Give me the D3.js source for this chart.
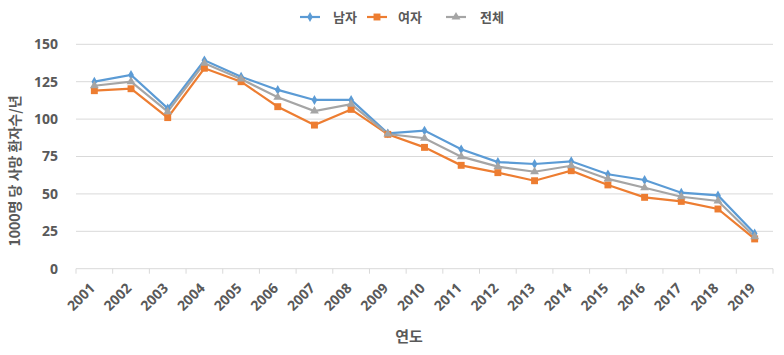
<!DOCTYPE html>
<html><head><meta charset="utf-8">
<script src="https://cdn.jsdelivr.net/npm/d3@7"></script>
<style>body{margin:0;background:#fff}svg{display:block}text{font-family:"Noto Sans CJK KR","Noto Sans",sans-serif;}</style>
</head><body><svg id="c" width="784" height="355"></svg>
<script>
const years = ["2001","2002","2003","2004","2005","2006","2007","2008","2009","2010","2011","2012","2013","2014","2015","2016","2017","2018","2019"];
const male =   [125,129.5,107.2,139.3,128.3,119.5,112.8,112.8,90.5,92.3,79.8,71.3,70,71.8,63.1,59.3,50.8,49,23.6];
const female = [119,120.3,101,134,125,108.3,96,106.5,89.8,81.1,69.1,64.2,58.8,65.5,56,47.7,45,39.9,19.9];
const total =  [122.3,125,105,137.3,126.8,114.6,105.4,110,90,87.2,74.9,68.2,64.8,68.8,60,54.1,48.1,45.3,21.4];
const yTicks = [0,25,50,75,100,125,150];
const seriesNames = ["남자","여자","전체"];
const colors = ["#5B9BD5","#ED7D31","#A5A5A5"];
const yTitle = "1000명 당 사망 환자수/년";
const xTitle = "연도";

const svg = d3.select("#c");
const L=76,R=773,T=44.3,B=268.7;
const x = d3.scaleBand().domain(years).range([L,R]);
const y = d3.scaleLinear().domain([0,150]).range([B,T]);
const txt="#595959";
const numFont='"Noto Sans","DejaVu Sans",sans-serif';

// gridlines
svg.append("g").selectAll("line").data(yTicks.filter(d=>d>0)).join("line")
  .attr("x1",L).attr("x2",R).attr("y1",d=>y(d)).attr("y2",d=>y(d))
  .attr("stroke","#D9D9D9").attr("stroke-width",1);
// y axis labels
const ya = svg.append("g").attr("transform",`translate(${L},0)`).call(d3.axisLeft(y).tickValues(yTicks).tickSize(0).tickPadding(18));
ya.select(".domain").remove();
ya.selectAll("text").attr("fill",txt).style("font-size","14px").style("font-weight","bold").style("font-family",numFont);
// x axis
svg.append("line").attr("x1",L).attr("x2",R).attr("y1",B).attr("y2",B).attr("stroke","#D9D9D9");
svg.append("g").selectAll("line").data(years.concat(["end"])).join("line")
  .attr("x1",(d,i)=>L+i*x.bandwidth()).attr("x2",(d,i)=>L+i*x.bandwidth())
  .attr("y1",B).attr("y2",B+5).attr("stroke","#D9D9D9");
svg.append("g").selectAll("text").data(years).join("text")
  .attr("transform",d=>`translate(${x(d)+x.bandwidth()/2-2},${B+17}) rotate(-45)`)
  .attr("text-anchor","end").attr("dy","0.35em")
  .attr("fill",txt).style("font-size","14px").style("font-weight","bold").style("font-family",numFont)
  .text(d=>d);

// titles
svg.append("text").attr("x",409).attr("y",342).attr("text-anchor","middle")
  .attr("fill",txt).style("font-size","15px").style("font-weight","bold").text(xTitle);
svg.append("text").attr("transform",`translate(20,171) rotate(-90)`).attr("text-anchor","middle")
  .attr("fill",txt).style("font-size","14px").style("font-weight","bold").text(yTitle);

// lines
const data=[male,female,total];
const cx = i=>x(years[i])+x.bandwidth()/2;
const line = d3.line().x((d,i)=>cx(i)).y(d=>y(d));
data.forEach((s,k)=>{
  svg.append("path").datum(s).attr("d",line).attr("fill","none").attr("stroke",colors[k]).attr("stroke-width",2.2);
});
const sym=[d3.symbolDiamond,d3.symbolSquare,d3.symbolTriangle];
const sz=[28,48,34];
data.forEach((s,k)=>{
  svg.append("g").selectAll("path").data(s).join("path")
    .attr("transform",(d,i)=>`translate(${cx(i)},${y(d)})`)
    .attr("d",d3.symbol().type(sym[k]).size(sz[k])).attr("fill",colors[k]);
});

// legend
const lx=[300,367,446], tx=[333,398,480];
seriesNames.forEach((n,k)=>{
  const g=svg.append("g");
  g.append("line").attr("x1",lx[k]).attr("x2",lx[k]+20).attr("y1",17).attr("y2",17).attr("stroke",colors[k]).attr("stroke-width",2.2);
  g.append("path").attr("transform",`translate(${lx[k]+10},17)`).attr("d",d3.symbol().type(sym[k]).size(sz[k])).attr("fill",colors[k]);
  g.append("text").attr("x",tx[k]).attr("y",22).attr("fill",txt).style("font-size","13px").style("font-weight","bold").text(n);
});
</script></body></html>
